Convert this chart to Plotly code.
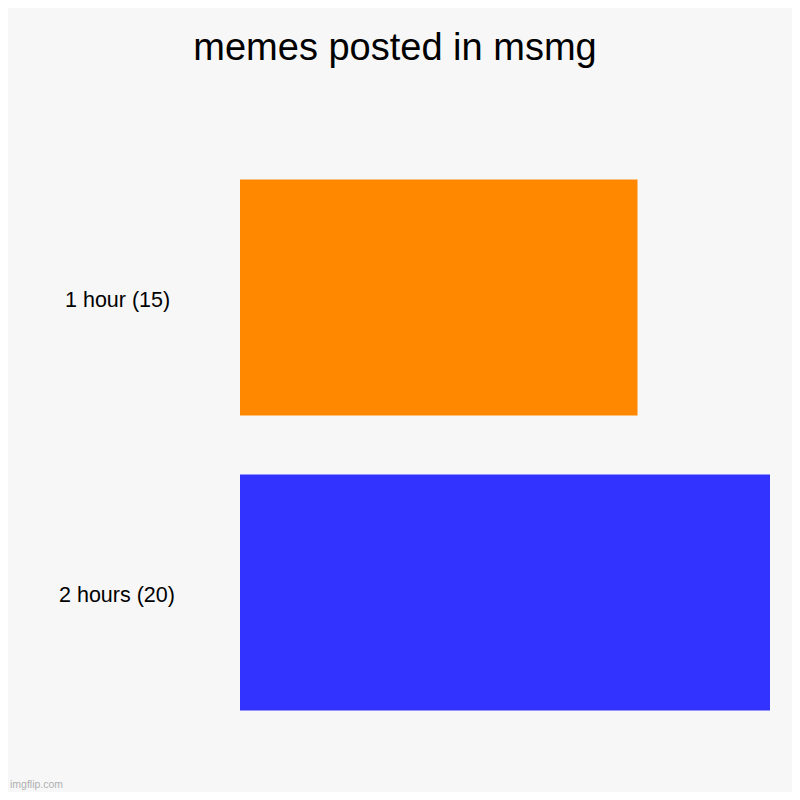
import plotly.graph_objects as go

categories = ['1 hour (15)', '2 hours (20)']
values = [15, 20]
colors = ['#ff8800', '#3333ff']

# page has an 8px body margin, so the figure is 784px and sits at (8, 8)
W = H = 784
L, R, T, B = 232, 22, 142, 52
pw, ph = W - L - R, H - T - B

fig = go.Figure(go.Bar(
    x=values,
    y=categories,
    orientation='h',
    marker=dict(color=colors, line=dict(width=0)),
    hoverinfo='x+y',
))

# labels centred to the left of the plot, like imgflip does it
for cat in categories:
    fig.add_annotation(text=cat, x=(109 - L) / pw, y=cat, xref='paper', yref='y',
                       xanchor='center', yshift=-2, showarrow=False,
                       font=dict(size=21.5, color='#000000'))

fig.add_annotation(text='imgflip.com', x=-L / pw, y=-B / ph, xref='paper', yref='paper',
                   xanchor='left', yanchor='bottom', showarrow=False,
                   font=dict(size=10.5, color='#b0b0b0'))

fig.update_layout(
    width=W,
    height=H,
    paper_bgcolor='#f7f7f7',
    plot_bgcolor='#f7f7f7',
    font=dict(family='Liberation Sans, Arial, sans-serif', color='#000000'),
    title=dict(text='memes posted in msmg', x=387 / W, xanchor='center',
               y=1 - 39 / H, yanchor='middle',
               font=dict(size=38, color='#000000')),
    margin=dict(l=L, r=R, t=T, b=B),
    bargap=0.2,
    showlegend=False,
    xaxis=dict(range=[0, 20], visible=False),
    yaxis=dict(autorange='reversed', showticklabels=False, showgrid=False,
               zeroline=False, showline=False, ticks=''),
)

fig.write_html('out.html')
